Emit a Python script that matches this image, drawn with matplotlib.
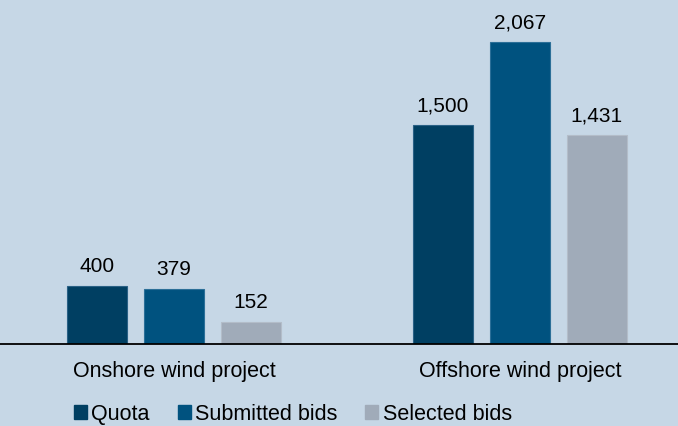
import matplotlib.pyplot as plt
import matplotlib.patches as mpatches
import numpy as np

plt.rcParams['font.family'] = ['Liberation Sans', 'DejaVu Sans']

categories = ['Onshore wind project', 'Offshore wind project']
series = ['Quota', 'Submitted bids', 'Selected bids']
quota = [400, 1500]
submitted = [379, 2067]
selected = [152, 1431]

colors = ['#003f62', '#00527f', '#a0abb9']
edges = ['#2a6186', '#2b6f98', '#b3bdc9']
bg = '#c6d7e6'

fig = plt.figure(figsize=(6.78, 4.26), dpi=100, facecolor=bg)
ax = fig.add_axes([0, 0.1925, 1, 0.8075])
ax.set_facecolor(bg)

x = np.arange(len(categories))
w = 0.1734
step = 0.2225
for i, (vals, name) in enumerate(zip([quota, submitted, selected], series)):
    bars = ax.bar(x + (i - 1) * step, vals, width=w, color=colors[i],
                  edgecolor=edges[i], linewidth=0.8, label=name)
    ax.bar_label(bars, labels=[f'{v:,}' for v in vals], padding=7, fontsize=15)

ax.set_xlim(-0.503, 1.457)
ax.set_ylim(0, 2354)
ax.set_xticks(x)
ax.set_xticklabels(categories, fontsize=15.5)
ax.tick_params(axis='x', length=0, pad=12)
ax.set_yticks([])
for s in ['top', 'left', 'right']:
    ax.spines[s].set_visible(False)
ax.spines['bottom'].set_linewidth(1.3)
ax.spines['bottom'].set_color('black')

handles = [mpatches.Patch(color=c, label=n) for c, n in zip(colors, series)]
fig.legend(handles=handles, ncol=3, loc='center', bbox_to_anchor=(0.432, 0.028),
           frameon=False, fontsize=15.5, handlelength=0.6, handleheight=0.6,
           handletextpad=0.2, columnspacing=1.3)

fig.savefig('out.png', dpi=100, facecolor=bg)
